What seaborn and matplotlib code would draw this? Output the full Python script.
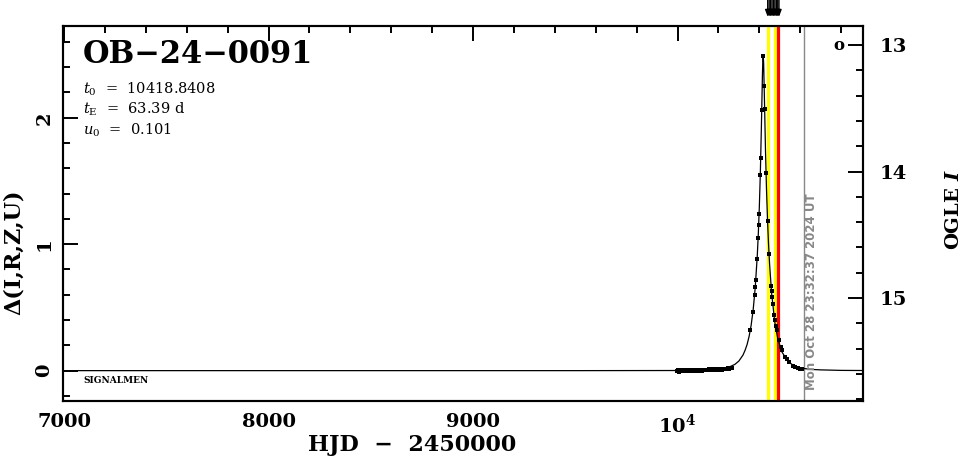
import matplotlib
matplotlib.use("Agg")
import matplotlib.pyplot as plt
from matplotlib.ticker import MultipleLocator, FixedLocator, FixedFormatter
import pandas as pd
import seaborn as sns

# model curve (HJD-2450000, delta mag)
curve_t = [6990, 9500, 10000, 10100, 10200, 10250, 10280, 10300, 10320, 10330,
           10340, 10350, 10360, 10370, 10380, 10390, 10395, 10400, 10405, 10410,
           10413, 10415, 10417, 10418.8, 10421, 10425, 10430, 10435, 10440, 10445,
           10450, 10460, 10475, 10490, 10510, 10540, 10570, 10600, 10650, 10700,
           10800, 10910]
curve_d = [0.000, 0.000, 0.001, 0.003, 0.011, 0.027, 0.049, 0.076, 0.123, 0.160,
           0.206, 0.271, 0.360, 0.484, 0.659, 0.912, 1.083, 1.297, 1.570, 1.926,
           2.169, 2.329, 2.451, 2.493, 2.435, 2.141, 1.748, 1.435, 1.192, 0.999,
           0.844, 0.613, 0.390, 0.253, 0.149, 0.072, 0.038, 0.021, 0.010, 0.006,
           0.002, 0.001]

# OGLE data points
obs_t = [9995, 10001, 10007, 10012, 10018, 10024, 10030, 10036, 10042, 10048,
         10054, 10060, 10066, 10072, 10078, 10084, 10090, 10096, 10102, 10108,
         10114, 10120, 10126, 10132, 10138, 10144, 10150, 10156, 10162, 10168,
         10174, 10180, 10186, 10192, 10198, 10204, 10210, 10216, 10222, 10228,
         10234, 10240, 10246, 10252, 10258, 10264,
         10356, 10369, 10377, 10380, 10383, 10389, 10394, 10397, 10399, 10404.6,
         10406.5, 10411.5, 10418.5, 10423, 10426, 10433, 10440,
         10448, 10458, 10461, 10464, 10468, 10473, 10477, 10482, 10486, 10495,
         10505, 10511, 10526, 10534, 10546, 10563, 10575, 10591, 10600, 10609]
obs_d = [-0.004, 0.006, -0.008, 0.002, -0.003, 0.005, -0.006, 0.001, 0.004, -0.005,
         0.003, -0.002, 0.007, 0.000, -0.004, 0.006, 0.002, -0.003, 0.008, 0.001,
         0.005, -0.002, 0.006, 0.003, 0.009, 0.002, 0.006, 0.010, 0.004, 0.008,
         0.011, 0.006, 0.009, 0.013, 0.007, 0.011, 0.014, 0.009, 0.012, 0.016,
         0.011, 0.015, 0.018, 0.014, 0.020, 0.024,
         0.32, 0.46, 0.60, 0.66, 0.72, 0.88, 1.05, 1.15, 1.24, 1.55,
         1.68, 2.06, 2.49, 2.25, 2.07, 1.56, 1.18,
         0.92, 0.67, 0.63, 0.58, 0.53, 0.44, 0.40, 0.35, 0.32, 0.24,
         0.185, 0.16, 0.11, 0.09, 0.066, 0.04, 0.032, 0.021, 0.013, 0.013]

alert_t = [10441, 10448, 10455, 10462, 10469, 10476, 10483, 10490, 10496]
yellow_t = [10440.6, 10474.8]
red_t = [10490]
now_t = 10616

event_name = "OB\u221224\u22120091"
param_lines = [r"$t_0$  =  10418.8408", r"$t_{\rm E}$  =  63.39 d", r"$u_0$  =  0.101"]
date_text = "Mon Oct 28 23:32:37 2024 UT"

I_base = 15.575

sns.set_style("white")
plt.rcParams["font.family"] = ["DejaVu Serif"]
plt.rcParams["mathtext.fontset"] = "dejavuserif"
plt.rcParams["text.color"] = "black"
plt.rcParams["axes.labelcolor"] = "black"
plt.rcParams["xtick.color"] = "black"
plt.rcParams["ytick.color"] = "black"

fig = plt.figure(figsize=(9.66, 4.59), dpi=100)
ax = fig.add_axes([0.0652, 0.1264, 0.8282, 0.8170])

for t in yellow_t:
    ax.axvline(t, color="#ffff00", lw=2.3, zorder=1)
for t in red_t:
    ax.axvline(t, color="#ff0000", lw=2.3, zorder=1)
ax.axvline(now_t, color="#888888", lw=1.0, zorder=1)

curve = pd.DataFrame({"t": curve_t, "d": curve_d})
obs = pd.DataFrame({"t": obs_t, "d": obs_d})
sns.lineplot(data=curve, x="t", y="d", color="black", lw=0.9, sort=False,
             estimator=None, ax=ax, zorder=3)
sns.scatterplot(data=obs, x="t", y="d", marker="s", s=11, color="black",
                linewidth=0, ax=ax, zorder=4)

ax.set_xlim(6995, 10907)
ax.set_ylim(-0.24, 2.726)

ax.xaxis.set_major_locator(FixedLocator([7000, 8000, 9000, 10000]))
ax.xaxis.set_major_formatter(FixedFormatter(["7000", "8000", "9000", r"$\mathbf{10^4}$"]))
ax.xaxis.set_minor_locator(MultipleLocator(200))
ax.yaxis.set_major_locator(MultipleLocator(1))
ax.yaxis.set_minor_locator(MultipleLocator(0.2))
ax.tick_params(which="both", direction="in", top=True, right=False, width=1.4,
               colors="black", labelcolor="black")
ax.tick_params(which="major", length=10.5)
ax.tick_params(which="minor", length=5)
ax.tick_params(axis="x", which="major", pad=9, labelsize=14)
ax.tick_params(axis="y", which="major", pad=7, labelsize=14, labelrotation=90)
for lab in ax.get_xticklabels() + ax.get_yticklabels():
    lab.set_fontweight("bold")
for lab in ax.get_yticklabels():
    lab.set_verticalalignment("center")
for sp in ax.spines.values():
    sp.set_linewidth(1.5)
    sp.set_color("black")

ax.set_xlabel("HJD  \u2212  2450000", fontsize=16, fontweight="bold", va="center")
ax.xaxis.set_label_coords(0.436, -0.117)
ax.set_ylabel("\u0394(I,R,Z,U)", fontsize=16, fontweight="bold", va="center")
ax.yaxis.set_label_coords(-0.061, 0.397)

ax2 = ax.twinx()
ax2.set_ylim(I_base + 0.24, I_base - 2.726)
ax2.yaxis.set_major_locator(MultipleLocator(1))
ax2.yaxis.set_minor_locator(MultipleLocator(0.2))
ax2.tick_params(which="both", direction="in", width=1.4, colors="black",
                labelcolor="black")
ax2.tick_params(which="major", length=10.5, pad=12, labelsize=14)
ax2.tick_params(which="minor", length=5)
for lab in ax2.get_yticklabels():
    lab.set_fontweight("bold")
for sp in ax2.spines.values():
    sp.set_linewidth(1.5)
    sp.set_color("black")
ax2.set_ylabel(r"OGLE $\mathbfit{I}$", fontsize=14, fontweight="bold",
               rotation=90, va="center")
ax2.yaxis.set_label_coords(1.114, 0.509)

ax.text(0.025, 0.923, event_name, transform=ax.transAxes, fontsize=22,
        fontweight="bold", va="center", ha="left")
for i, line in enumerate(param_lines):
    ax.text(0.025, 0.832 - 0.055 * i, line, transform=ax.transAxes,
            fontsize=10.5, va="center", ha="left")
ax.text(0.025, 0.054, "SIGNALMEN", transform=ax.transAxes, fontsize=6.5,
        fontweight="bold", va="center", ha="left")
ax.text(0.935, 0.029, date_text, transform=ax.transAxes, fontsize=8.5,
        family="DejaVu Sans", fontweight="bold", color="#888888",
        rotation=90, ha="center", va="bottom")
ax.text(0.97, 0.947, "o", transform=ax.transAxes, fontsize=12,
        fontweight="bold", ha="center", va="center")

for t in alert_t:
    ax.annotate("", xy=(t, 1.024), xytext=(t, 1.07),
                xycoords=("data", "axes fraction"),
                textcoords=("data", "axes fraction"),
                arrowprops=dict(arrowstyle="-|>,head_length=0.4,head_width=0.15",
                                color="black", lw=1.0, shrinkA=0, shrinkB=0),
                annotation_clip=False)

fig.savefig("out.png", dpi=100)
